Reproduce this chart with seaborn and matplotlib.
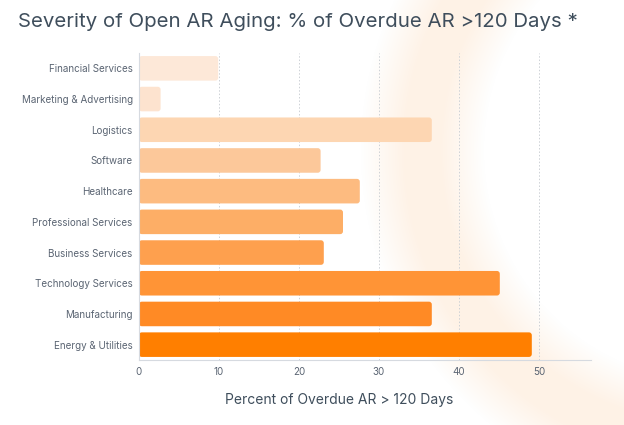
import pandas as pd
import numpy as np
import matplotlib.pyplot as plt
import seaborn as sns
from matplotlib.colors import LinearSegmentedColormap
from matplotlib.patches import FancyBboxPatch

industries = ["Financial Services", "Marketing & Advertising", "Logistics", "Software",
              "Healthcare", "Professional Services", "Business Services",
              "Technology Services", "Manufacturing", "Energy & Utilities"]
pct_over_120 = [9.9, 2.7, 36.6, 22.7, 27.6, 25.5, 23.1, 45.1, 36.6, 49.1]
bar_colors = ["#FDE8D8", "#FDE3CF", "#FDD6B2", "#FCC89A", "#FDBB80",
              "#FDAE66", "#FEA04E", "#FF9436", "#FF8A25", "#FF7F00"]

data = pd.DataFrame({"industry": industries, "pct": pct_over_120})

sns.set_style("white")
plt.rcParams["font.family"] = ["Inter", "DejaVu Sans"]

fig = plt.figure(figsize=(6.24, 4.25), dpi=100)
fig.patch.set_facecolor("white")

# faint decorative glow ring in the background
bg = fig.add_axes([0, 0, 1, 1], zorder=-1)
yy, xx = np.mgrid[0:425, 0:624]
r = np.hypot(xx - 715, yy - 150)
glow = np.clip((62 - np.abs(r - 293)) / 45, 0, 1)
glow_cmap = LinearSegmentedColormap.from_list("glow", ["#FFFFFF", "#FEF2E6"])
bg.imshow(glow, cmap=glow_cmap, vmin=0, vmax=1, extent=(0, 624, 425, 0), aspect="auto")
bg.set_xlim(0, 624)
bg.set_ylim(425, 0)
bg.axis("off")

ax = fig.add_axes([139 / 624, 1 - 360 / 425, (591 - 139) / 624, (360 - 53) / 425])
ax.set_facecolor("none")
sns.barplot(data=data, x="pct", y="industry", hue="industry", palette=bar_colors,
            legend=False, width=0.8, saturation=1, ax=ax, edgecolor="none")

# swap the plain rectangles for slightly rounded ones
for p in list(ax.patches):
    x0, y0, w, h = p.get_x(), p.get_y(), p.get_width(), p.get_height()
    rb = FancyBboxPatch((x0, y0), w, h, boxstyle="round,pad=0,rounding_size=0.35",
                        mutation_aspect=0.27, facecolor=p.get_facecolor(),
                        edgecolor="none", zorder=p.get_zorder())
    p.remove()
    ax.add_patch(rb)

ax.set_xlim(0, 56.5)
ax.set_xticks([0, 10, 20, 30, 40, 50])
for v in [10, 20, 30, 40, 50]:
    ax.axvline(v, color="#CDD1D6", lw=0.7, ls=(0, (1.5, 2)), zorder=0)

for s in ["top", "right"]:
    ax.spines[s].set_visible(False)
ax.spines["left"].set_color("#D6DAE0")
ax.spines["bottom"].set_color("#D6DAE0")
ax.tick_params(length=0, labelsize=7.1, colors="#5B6573")
ax.tick_params(axis="y", pad=4.5)
ax.tick_params(axis="x", pad=5)
ax.set_ylabel("")
ax.set_xlabel("Percent of Overdue AR > 120 Days", fontsize=10, color="#3F4E5C")
ax.xaxis.set_label_coords(0.442, -0.109)

fig.text(18 / 624, 1 - 22 / 425, "Severity of Open AR Aging: % of Overdue AR >120 Days *",
         fontsize=14.7, color="#3F4E5C", va="center", ha="left")

fig.savefig("out.png", dpi=100)
